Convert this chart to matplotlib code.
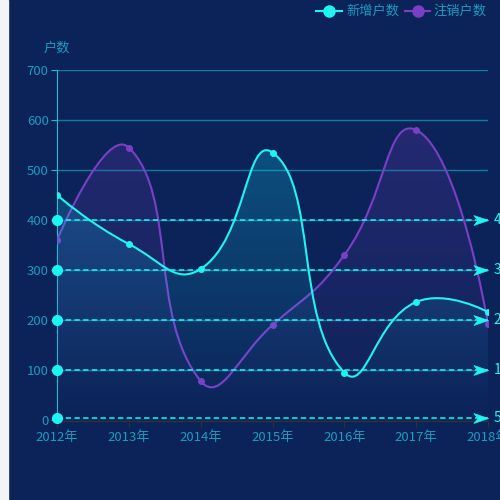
import numpy as np
import matplotlib.pyplot as plt
from matplotlib.path import Path
from matplotlib.patches import PathPatch, Rectangle
from matplotlib.lines import Line2D

plt.rcParams['font.family'] = ['Noto Sans CJK SC', 'DejaVu Sans']

# --- DATA ---
years = ['2012年', '2013年', '2014年', '2015年', '2016年', '2017年', '2018年']
new_accounts = [450, 352, 302, 535, 95, 236, 216]       # 新增户数
closed_accounts = [360, 545, 78, 190, 330, 580, 193]    # 注销户数
mark_values = [400, 300, 200, 100, 5]
y_ticks = [0, 100, 200, 300, 400, 500, 600, 700]

# --- STYLE ---
BG = '#0c2359'
CYAN = '#1ef5f0'
PURPLE = '#7b3fc6'
TEXT = '#1a9cc0'
GRID = '#0b7f9c'

# px per data unit (for echarts-like smoothing in screen space)
PX_X = 71.83
PX_Y = 0.4993


def smooth_path(xs, ys, smooth=0.5):
    px = np.asarray(xs, float) * PX_X
    py = np.asarray(ys, float) * PX_Y
    n = len(px)
    verts = [(xs[0], ys[0])]
    codes = [Path.MOVETO]
    cp0 = (px[0], py[0])
    for i in range(1, n):
        x, y = px[i], py[i]
        if i < n - 1:
            vx = px[i + 1] - px[i - 1]
            vy = py[i + 1] - py[i - 1]
            l0 = np.hypot(x - px[i - 1], y - py[i - 1])
            l1 = np.hypot(px[i + 1] - x, py[i + 1] - y)
            r = l1 / (l0 + l1)
            cp1 = (x - vx * smooth * (1 - r), y - vy * smooth * (1 - r))
            nxt = (x + vx * smooth * r, y + vy * smooth * r)
        else:
            cp1 = (x, y)
            nxt = None
        verts += [(cp0[0] / PX_X, cp0[1] / PX_Y), (cp1[0] / PX_X, cp1[1] / PX_Y), (xs[i], ys[i])]
        codes += [Path.CURVE4] * 3
        cp0 = nxt
    return verts, codes


def draw_series(ax, values, color, rgb, alpha_top, z):
    xs = list(range(len(values)))
    verts, codes = smooth_path(xs, values)
    line = PathPatch(Path(verts, codes), facecolor='none', edgecolor=color, lw=1.5, zorder=z + 1)
    ax.add_patch(line)

    area_verts = verts + [(xs[-1], 0), (xs[0], 0), (xs[0], values[0])]
    area_codes = codes + [Path.LINETO, Path.LINETO, Path.CLOSEPOLY]
    area = PathPatch(Path(area_verts, area_codes), facecolor='none', edgecolor='none')
    ax.add_patch(area)

    top = Path(verts, codes).get_extents().y1
    grad = np.zeros((256, 1, 4))
    grad[:, 0, 0:3] = rgb
    grad[:, 0, 3] = np.linspace(0, alpha_top, 256)
    im = ax.imshow(grad, extent=[xs[0], xs[-1], 0, top], origin='lower',
                   aspect='auto', zorder=z, interpolation='bilinear')
    im.set_clip_path(area)

    ax.plot(xs, values, 'o', color=color, ms=4, zorder=z + 2)


fig = plt.figure(figsize=(5, 5), dpi=100)
fig.patch.set_facecolor(BG)
fig.add_artist(Rectangle((0, 0), 8 / 500, 1, transform=fig.transFigure,
                         color='#f3f4f8', zorder=0))

ax = fig.add_axes([57 / 500, 80 / 500, 431 / 500, 350 / 500])
ax.set_facecolor(BG)

draw_series(ax, closed_accounts, PURPLE, (0.49, 0.25, 0.78), 0.22, 3)
draw_series(ax, new_accounts, CYAN, (0.05, 0.9, 1.0), 0.23, 6)

ax.set_xlim(0, 6)
ax.set_ylim(0, 700)

ax.set_yticks(y_ticks)
ax.set_yticklabels([str(v) for v in y_ticks])
ax.set_xticks(range(len(years)))
ax.set_xticklabels(years)
ax.grid(axis='y', color=GRID, lw=1)
ax.set_axisbelow(True)

for s in ['top', 'right']:
    ax.spines[s].set_visible(False)
ax.spines['left'].set_color('#1cbcd4')
ax.spines['bottom'].set_color('#333333')
ax.spines['bottom'].set_position(('outward', 1))
ax.tick_params(axis='y', colors=TEXT, labelsize=9.5, length=4, pad=2)
ax.tick_params(axis='y', which='both', color='#1cbcd4')
ax.tick_params(axis='x', colors=TEXT, labelsize=9.5, length=4, pad=3)
ax.tick_params(axis='x', color='#333333')

# mark lines
arrow = Path([(0, 0), (-1, 0.34), (-0.72, 0), (-1, -0.34), (0, 0)],
             [Path.MOVETO, Path.LINETO, Path.LINETO, Path.LINETO, Path.CLOSEPOLY])
for v in mark_values:
    ax.plot([0, 6], [v, v], color=CYAN, lw=1.1, dashes=(3.5, 2.2), zorder=9, clip_on=False)
    ax.plot([0], [v], 'o', color=CYAN, ms=7, zorder=10, clip_on=False)
    ax.plot([6], [v], marker=arrow, color=CYAN, ms=21, mew=0.5, zorder=10, clip_on=False)
    ax.annotate(str(v), (6, v), xytext=(4.2, 0), textcoords='offset points',
                va='center', ha='left', color=CYAN, fontsize=10, annotation_clip=False)

# axis name
fig.text(57 / 500, 1 - 48 / 500, '户数', color=TEXT, fontsize=9.5, ha='center', va='center')

# legend
for cx, x0, x1, tx, label, col in [(329, 316, 342, 346, '新增户数', CYAN),
                                   (417.5, 405, 430, 433, '注销户数', PURPLE)]:
    yy = 1 - 11 / 500
    fig.add_artist(Line2D([x0 / 500, x1 / 500], [yy, yy], color=col, lw=1.5,
                          transform=fig.transFigure))
    fig.add_artist(Line2D([cx / 500], [yy], marker='o', ms=8, color=col,
                          transform=fig.transFigure))
    fig.text(tx / 500, yy, label, color=TEXT, fontsize=9.5, ha='left', va='center')

fig.savefig('out.png', dpi=100, facecolor=BG)
